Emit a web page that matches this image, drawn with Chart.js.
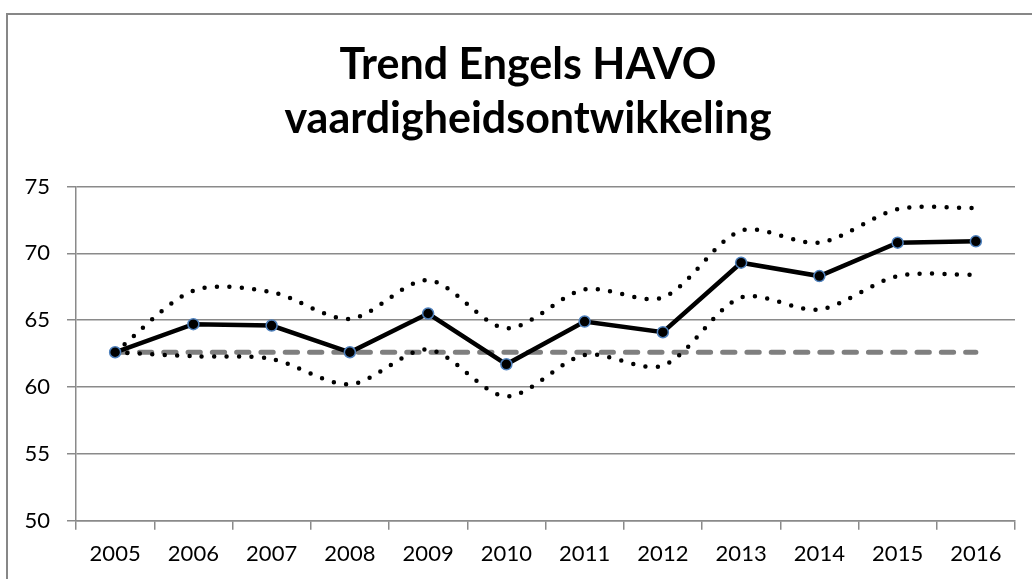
<!DOCTYPE html>
<html>
<head>
<meta charset="utf-8">
<script src="https://cdn.jsdelivr.net/npm/chart.js@4/dist/chart.umd.min.js"></script>
<style>
  html, body { margin: 0; padding: 0; background: #fff; overflow: hidden; }
</style>
</head>
<body>
<canvas id="trendChart" width="1032" height="579"></canvas>
<script>
'use strict';

// jaren en waarden
const years = ['2005', '2006', '2007', '2008', '2009', '2010', '2011', '2012', '2013', '2014', '2015', '2016'];
const trend = [62.6, 64.7, 64.6, 62.6, 65.5, 61.7, 64.9, 64.1, 69.3, 68.3, 70.8, 70.9];
const upper = [62.6, 67.2, 67.1, 65.1, 68.0, 64.4, 67.3, 66.7, 71.7, 70.8, 73.3, 73.4];
const lower = [62.6, 62.3, 62.1, 60.2, 62.8, 59.3, 62.4, 61.6, 66.7, 65.8, 68.3, 68.4];
const reference = [62.6, 62.6, 62.6, 62.6, 62.6, 62.6, 62.6, 62.6, 62.6, 62.6, 62.6, 62.6];
const yTicks = [50, 55, 60, 65, 70, 75];

const gridGrey = '#8a8a8a';

// grijze rand om de grafiek, en de titel iets naar rechts (midden van het kader)
const frame = {
  id: 'frame',
  afterLayout(chart) {
    const t = chart.titleBlock;
    if (t) {
      t.left = 41;
      t.right = 1015;
    }
  },
  beforeDraw(chart) {
    const ctx = chart.ctx;
    ctx.save();
    ctx.strokeStyle = '#878787';
    ctx.lineWidth = 2;
    ctx.strokeRect(7, 14, 1200, 1000);
    ctx.restore();
  }
};

function dotted(data) {
  return {
    data: data,
    borderColor: '#000',
    borderWidth: 4.5,
    borderDash: [0, 12.4],
    borderCapStyle: 'round',
    pointRadius: 0,
    tension: 0.3,
    fill: false,
    order: 1
  };
}

let context = document.querySelector('#trendChart').getContext('2d');
new Chart(context, {
  type: 'line',
  data: {
    labels: years,
    datasets: [
      {
        data: trend,
        borderColor: '#000',
        borderWidth: 4.5,
        pointRadius: 5.5,
        pointBackgroundColor: '#000',
        pointBorderColor: '#4f81bd',
        pointBorderWidth: 1.5,
        tension: 0,
        order: 0
      },
      dotted(upper),
      dotted(lower),
      {
        data: reference,
        borderColor: '#7f7f7f',
        borderWidth: 5,
        borderDash: [12.3, 12],
        borderCapStyle: 'round',
        pointRadius: 0,
        order: 2
      }
    ]
  },
  options: {
    responsive: false,
    animation: false,
    layout: { padding: { left: 0, right: 17, top: 0, bottom: 0 } },
    plugins: {
      legend: { display: false },
      tooltip: { enabled: false },
      title: {
        display: true,
        text: ['Trend Engels HAVO', 'vaardigheidsontwikkeling'],
        color: '#000',
        font: { family: 'Lato', size: 43, weight: 'bold', lineHeight: 1.25 },
        padding: { top: 38, bottom: 41 }
      }
    },
    scales: {
      x: {
        offset: true,
        afterFit(scale) { scale.height = 58.3; },
        grid: {
          offset: true,
          drawOnChartArea: false,
          drawTicks: true,
          tickLength: 9,
          color: gridGrey,
          lineWidth: 1.5
        },
        border: { color: gridGrey, width: 1.5 },
        ticks: {
          color: '#000',
          padding: 11,
          maxRotation: 0,
          font: { family: 'Lato', size: 22 }
        }
      },
      y: {
        min: 50,
        max: 75,
        afterFit(scale) { scale.width = 76; },
        afterBuildTicks(scale) { scale.ticks = yTicks.map(function(v) { return { value: v }; }); },
        grid: {
          color: gridGrey,
          lineWidth: 1.5,
          tickLength: 9
        },
        border: { color: gridGrey, width: 1.5 },
        ticks: {
          color: '#000',
          padding: 17,
          font: { family: 'Lato', size: 22 }
        }
      }
    }
  },
  plugins: [frame]
});
</script>
</body>
</html>
